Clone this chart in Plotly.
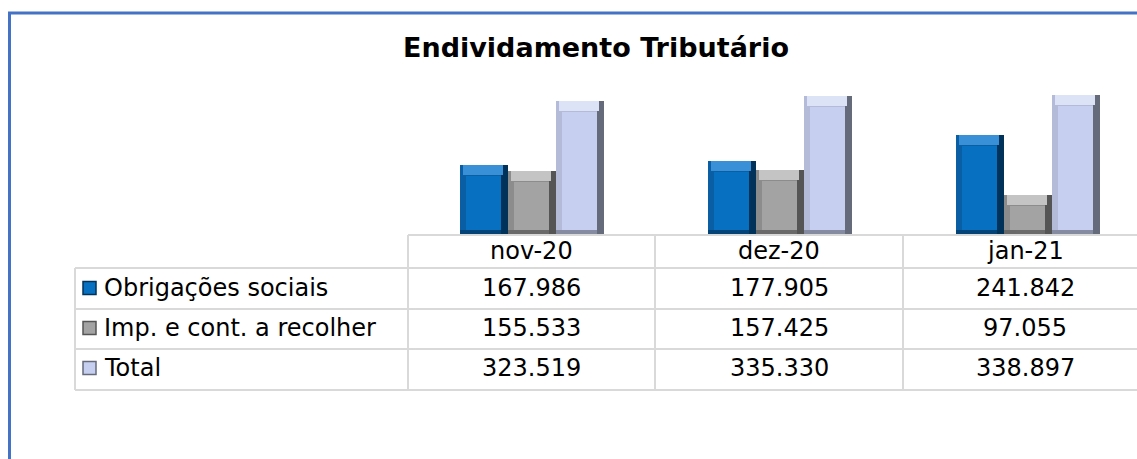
import plotly.graph_objects as go

W, H = 1137, 459

# data
months = ['nov-20', 'dez-20', 'jan-21']
series_names = ['Obrigações sociais', 'Imp. e cont. a recolher', 'Total']
obrigacoes = [167.986, 177.905, 241.842]
impostos = [155.533, 157.425, 97.055]
total = [323.519, 335.330, 338.897]
values = [obrigacoes, impostos, total]
value_text = [['167.986', '177.905', '241.842'],
              ['155.533', '157.425', '97.055'],
              ['323.519', '335.330', '338.897']]

# colours: face, top bevel, left edge, right edge
palette = [
    ('#0870c0', '#3a90d6', '#0a5ea4', '#00325a'),
    ('#a3a3a3', '#c4c4c4', '#8c8c8c', '#555555'),
    ('#c6cfef', '#dde3f7', '#b3bbd9', '#666b7c'),
]

# pixel geometry
plot_left, plot_right = 408, W
col_w = 248
base_y, top_y = 235, 60
px_per_unit = 0.414
bar_px = 48

xu = 1.0 / col_w            # x units per pixel
yu = 1.0 / px_per_unit      # y units per pixel
bar_w = bar_px * xu
offsets = [-bar_w, 0, bar_w]

fig = go.Figure()
for s in range(3):
    face, light, left, dark = palette[s]
    xs = [i + offsets[s] for i in range(3)]
    vals = values[s]
    # outer body (left edge colour)
    fig.add_trace(go.Bar(x=xs, y=vals, width=bar_w, marker=dict(color=left, line_width=0),
                         name=series_names[s], showlegend=False))
    # right dark edge
    fig.add_trace(go.Bar(x=[x + (bar_px / 2 - 3.5) * xu for x in xs], y=vals, width=7 * xu,
                         marker=dict(color=dark, line_width=0), showlegend=False, hoverinfo='skip'))
    # bottom dark band
    fig.add_trace(go.Bar(x=xs, y=[5 * yu] * 3, width=bar_w, marker=dict(color=dark, line_width=0),
                         opacity=0.6, showlegend=False, hoverinfo='skip'))
    # top light bevel
    fig.add_trace(go.Bar(x=[x - 1 * xu for x in xs], y=[10 * yu] * 3, base=[v - 10 * yu for v in vals],
                         width=bar_w - 8 * xu, marker=dict(color=light, line_width=0),
                         showlegend=False, hoverinfo='skip'))
    # face
    fig.add_trace(go.Bar(x=[x - 0.5 * xu for x in xs], y=[v - 16 * yu for v in vals], base=[5 * yu] * 3,
                         width=bar_w - 13 * xu, marker=dict(color=face, line_width=0),
                         showlegend=False, hoverinfo='skip'))

fig.update_layout(
    width=W, height=H,
    margin=dict(l=0, r=0, t=0, b=0),
    paper_bgcolor='white', plot_bgcolor='white',
    barmode='overlay', bargap=0,
    showlegend=False,
    xaxis=dict(domain=[plot_left / W, 1], range=[-0.5, -0.5 + (plot_right - plot_left) / col_w],
               visible=False, fixedrange=True),
    yaxis=dict(domain=[1 - base_y / H, 1 - top_y / H], range=[0, (base_y - top_y) / px_per_unit],
               visible=False, fixedrange=True),
)

font_family = 'DejaVu Sans'
grid = '#d9d9d9'

def px(x):
    return x / W

def py(y):
    return 1 - y / H

shapes = []
# outer blue frame
shapes.append(dict(type='line', xref='paper', yref='paper', x0=px(8), x1=px(W), y0=py(13), y1=py(13),
                   line=dict(color='#4472c4', width=3)))
shapes.append(dict(type='line', xref='paper', yref='paper', x0=px(9.5), x1=px(9.5), y0=py(12), y1=py(H),
                   line=dict(color='#4472c4', width=3)))

# data table grid
row_lines = [268, 309, 349, 390]
shapes.append(dict(type='line', xref='paper', yref='paper', x0=px(408), x1=px(W), y0=py(235), y1=py(235),
                   line=dict(color=grid, width=2)))
for y in row_lines:
    shapes.append(dict(type='line', xref='paper', yref='paper', x0=px(75), x1=px(W), y0=py(y), y1=py(y),
                       line=dict(color=grid, width=2)))
shapes.append(dict(type='line', xref='paper', yref='paper', x0=px(75), x1=px(75), y0=py(268), y1=py(390),
                   line=dict(color=grid, width=2)))
for x in [408, 655, 903]:
    shapes.append(dict(type='line', xref='paper', yref='paper', x0=px(x), x1=px(x), y0=py(235), y1=py(390),
                       line=dict(color=grid, width=2)))

# legend keys
row_centers = [288, 328, 368]
for s in range(3):
    face, light, left, dark = palette[s]
    yc = row_centers[s]
    shapes.append(dict(type='rect', xref='paper', yref='paper', x0=px(83), x1=px(96),
                       y0=py(yc + 6.5), y1=py(yc - 6.5), fillcolor=face, line=dict(color=dark, width=1.5)))

fig.update_layout(shapes=shapes)

ann = []
ann.append(dict(text='<b>Endividamento Tributário</b>', x=px(596), y=py(47), xref='paper', yref='paper',
                showarrow=False, font=dict(family=font_family, size=27, color='black'),
                xanchor='center', yanchor='middle'))

col_centers = [531.5, 779, 1025]
for i, m in enumerate(months):
    ann.append(dict(text=m, x=px(col_centers[i]), y=py(251), xref='paper', yref='paper', showarrow=False,
                    font=dict(family=font_family, size=24, color='black'), xanchor='center', yanchor='middle'))
for s in range(3):
    ann.append(dict(text=series_names[s], x=px(102), y=py(row_centers[s]), xref='paper', yref='paper',
                    showarrow=False, font=dict(family=font_family, size=24, color='black'),
                    xanchor='left', yanchor='middle'))
    for i in range(3):
        ann.append(dict(text=value_text[s][i], x=px(col_centers[i]), y=py(row_centers[s]), xref='paper',
                        yref='paper', showarrow=False, font=dict(family=font_family, size=24, color='black'),
                        xanchor='center', yanchor='middle'))
fig.update_layout(annotations=ann)

# drop the default page margin so the figure sits at the window's top-left corner
fig.write_html("out.html", config={'displayModeBar': False},
               post_script="document.body.style.margin = '0';")
